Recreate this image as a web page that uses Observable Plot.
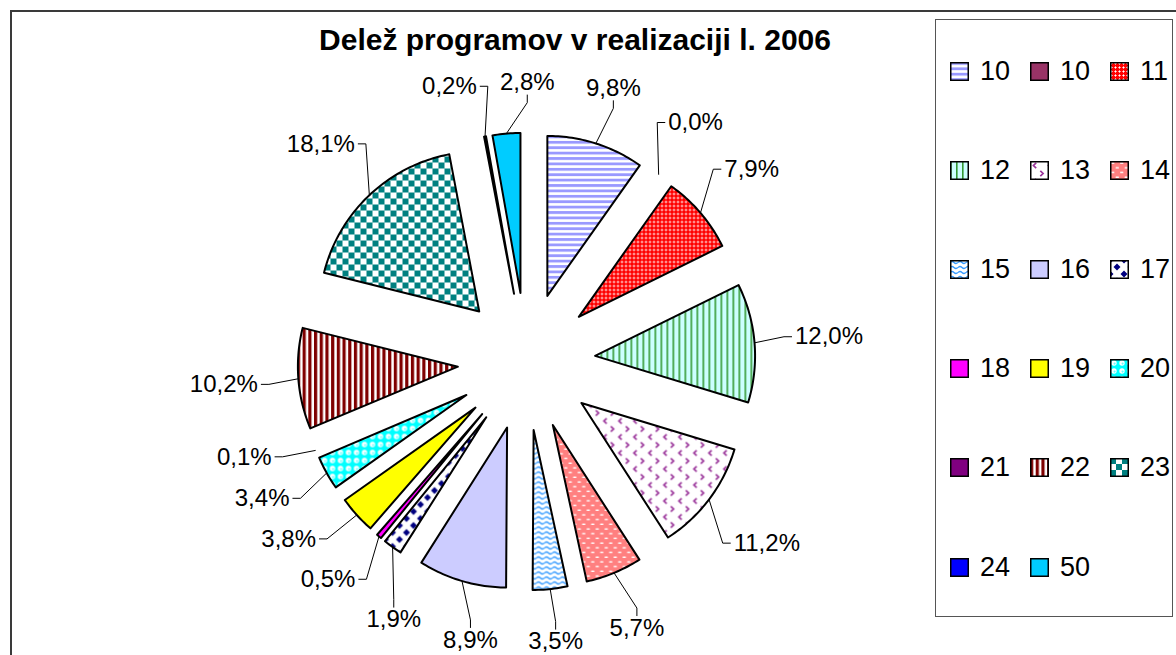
<!DOCTYPE html>
<html>
<head>
<meta charset="utf-8">
<script src="https://cdn.jsdelivr.net/npm/d3@7"></script>
<script src="https://cdn.jsdelivr.net/npm/@observablehq/plot@0.6"></script>
<style>
  body { margin: 0; background: #fff; font-family: "Liberation Sans", Arial, sans-serif; }
  #wrap { position: relative; width: 1176px; height: 655px; overflow: hidden; background: #fff; }
  #frame { position: absolute; left: 10px; top: 10px; right: -10px; bottom: -10px;
           border-left: 2px solid #3a3a3a; border-top: 2px solid #3a3a3a; }
  #chart { position: absolute; left: 0; top: 0; }
  #chart svg { display: block; }
  #title { position: absolute; left: 0; width: 1150px; top: 25px; text-align: center;
           font-weight: bold; font-size: 30px; line-height: 30px; color: #000; }
  #legend { position: absolute; left: 935px; top: 19px; width: 238px; height: 598px;
            border: 1.5px solid #555; box-sizing: border-box; background: #fff; }
  .item { position: absolute; display: flex; align-items: center; height: 19px; }
  .item span { margin-left: 11px; font-size: 27px; line-height: 19px; color: #000; }
</style>
</head>
<body>
<svg width="0" height="0" style="position:absolute">
  <defs>
    <pattern id="p10" patternUnits="userSpaceOnUse" width="6" height="5.4">
      <rect width="6" height="5.4" fill="#fff"/><rect y="0" width="6" height="2.8" fill="#9999ff"/>
    </pattern>
    <pattern id="p11" patternUnits="userSpaceOnUse" width="4" height="4">
      <rect width="4" height="4" fill="#ff0000"/>
      <rect x="1" y="0" width="1" height="3" fill="#ff9a9a"/>
      <rect x="0" y="1" width="3" height="1" fill="#ff9a9a"/>
      <rect x="1" y="1" width="1" height="1" fill="#fff"/>
    </pattern>
    <pattern id="p12" patternUnits="userSpaceOnUse" width="6" height="6">
      <rect width="6" height="6" fill="#ccffff"/><rect x="0" width="1.6" height="6" fill="#339933"/>
    </pattern>
    <pattern id="p13" patternUnits="userSpaceOnUse" width="15" height="16">
      <rect width="15" height="16" fill="#fff"/>
      <path d="M6.2 1.8 L3.4 4.5 L6.2 7.2" stroke="#993399" stroke-width="1.7" fill="none"/>
      <path d="M10.3 9.8 L13.1 12.5 L10.3 15.2" stroke="#993399" stroke-width="1.7" fill="none"/>
    </pattern>
    <pattern id="p14" patternUnits="userSpaceOnUse" width="9" height="9.4">
      <rect width="9" height="9.4" fill="#ff8080"/>
      <rect x="1" y="1.5" width="3.5" height="1.4" rx="0.7" fill="#fff"/>
      <rect x="5.5" y="6.2" width="3.5" height="1.4" rx="0.7" fill="#fff"/>
    </pattern>
    <pattern id="p15" patternUnits="userSpaceOnUse" width="8" height="5">
      <rect width="8" height="5" fill="#fff"/>
      <path d="M0 2.5 Q2 0.5 4 2.5 T8 2.5" stroke="#3399ff" stroke-width="1.2" fill="none"/>
    </pattern>
    <pattern id="p17" patternUnits="userSpaceOnUse" width="14" height="14">
      <rect width="14" height="14" fill="#fff"/>
      <path d="M7 3.5 L10.5 7 L7 10.5 L3.5 7Z" fill="#000080"/>
      <path d="M0 -3.5 L3.5 0 L0 3.5 L-3.5 0Z M14 -3.5 L17.5 0 L14 3.5 L10.5 0Z M0 10.5 L3.5 14 L0 17.5 L-3.5 14Z M14 10.5 L17.5 14 L14 17.5 L10.5 14Z" fill="#000080"/>
    </pattern>
    <pattern id="p20" patternUnits="userSpaceOnUse" width="8" height="8">
      <rect width="8" height="8" fill="#00ffff"/>
      <circle cx="4" cy="4" r="2.7" fill="#fff"/>
      <circle cx="4.6" cy="4.6" r="1.1" fill="#66ffff"/>
    </pattern>
    <pattern id="p22" patternUnits="userSpaceOnUse" width="5.7" height="6">
      <rect width="5.7" height="6" fill="#fff"/><rect width="3.2" height="6" fill="#800000"/>
    </pattern>
    <pattern id="p23" patternUnits="userSpaceOnUse" width="12" height="12">
      <rect width="12" height="12" fill="#fff"/>
      <rect width="6" height="6" fill="#008080"/><rect x="6" y="6" width="6" height="6" fill="#008080"/>
    </pattern>
  </defs>
</svg>

<div id="wrap">
  <div id="frame"></div>
  <div id="chart"></div>
  <div id="title"></div>
  <div id="legend"></div>
</div>

<script>
// ---- data ----
const title = "Delež programov v realizaciji l. 2006";
const categories = ["10", "10", "11", "12", "13", "14", "15", "16", "17", "18", "19", "20", "21", "22", "23", "24", "50"];
const shares = [9.8, 0.0, 7.9, 12.0, 11.2, 5.7, 3.5, 8.9, 1.9, 0.5, 3.8, 3.4, 0.1, 10.2, 18.1, 0.2, 2.8];

// ---- styles ----
const fills = ["url(#p10)", "#993366", "url(#p11)", "url(#p12)", "url(#p13)", "url(#p14)", "url(#p15)",
               "#ccccff", "url(#p17)", "#ff00ff", "#ffff00", "url(#p20)", "#800080", "url(#p22)",
               "url(#p23)", "#0000ff", "#00ccff"];

// ---- layout ----
const CX = 526, CY = 361, RPX = 160;   // pie centre and radius (px)
const EXPLODE = 0.43;                  // explosion as a fraction of the radius
const GAP = 40;                        // label distance beyond the slice arc (px)
const LABEL_FONT = 24;
const LABEL_H = 20;
const PAD_X = 22, PAD_Y = 20;          // spacing kept between neighbouring labels
const MIN_DRAWN = 0.15;                // slices that are too thin to show

document.getElementById("title").textContent = title;

const total = d3.sum(shares);
let acc = 0;
const slices = shares.map((v, i) => {
  const a0 = acc / total * 2 * Math.PI; acc += v;
  const a1 = acc / total * 2 * Math.PI;
  return {i, key: categories[i], value: v, a0, a1, mid: (a0 + a1) / 2, fill: fills[i]};
});

// wedge outlines (unit coordinates, y up)
const wedgePts = [];
slices.filter(s => s.value >= MIN_DRAWN).forEach(s => {
  const ex = EXPLODE * Math.sin(s.mid), ey = EXPLODE * Math.cos(s.mid);
  wedgePts.push({k: s.i, x: ex, y: ey, fill: s.fill});
  const n = Math.max(2, Math.ceil((s.a1 - s.a0) / (Math.PI / 180)));
  for (let j = 0; j <= n; j++) {
    const t = s.a0 + (s.a1 - s.a0) * j / n;
    wedgePts.push({k: s.i, x: ex + Math.sin(t), y: ey + Math.cos(t), fill: s.fill});
  }
});

// labels
const ctx = document.createElement("canvas").getContext("2d");
ctx.font = `${LABEL_FONT}px "Liberation Sans"`;
const labels = slices.map(s => {
  const text = s.value.toFixed(1).replace(".", ",") + "%";
  return {i: s.i, mid: s.mid, text, w: ctx.measureText(text).width, h: LABEL_H, phi: s.mid};
});
function place(l) {
  const sn = Math.sin(l.phi), cs = Math.cos(l.phi);
  const D = RPX * (1 + EXPLODE) + GAP + l.w / 2 * Math.abs(sn) + l.h / 2 * Math.abs(cs);
  l.cx = CX + D * sn; l.cy = CY - D * cs;
}
function overlap(a, b) {
  return Math.abs(a.cx - b.cx) < (a.w + b.w) / 2 + PAD_X && Math.abs(a.cy - b.cy) < (a.h + b.h) / 2 + PAD_Y;
}
const step = 0.2 * Math.PI / 180;
for (let it = 0; it < 3000; it++) {
  labels.forEach(place);
  let moved = false;
  for (let k = 0; k < labels.length; k++) {
    const a = labels[k], b = labels[(k + 1) % labels.length];
    if (overlap(a, b)) { a.phi -= step; b.phi += step; moved = true; place(a); place(b); }
  }
  if (!moved) break;
}
labels.forEach(place);

// leader lines
const leaderPts = [];
labels.forEach(l => {
  const R1 = RPX * (1 + EXPLODE);
  const ax = CX + R1 * Math.sin(l.mid), ay = CY - R1 * Math.cos(l.mid);
  const left = l.cx - l.w / 2 - 3, right = l.cx + l.w / 2 + 3;
  const top = l.cy - l.h / 2 - 2, bottom = l.cy + l.h / 2 + 2;
  let T, S;
  if (ax < left) { T = [left, l.cy]; S = [left - 8, l.cy]; }
  else if (ax > right) { T = [right, l.cy]; S = [right + 8, l.cy]; }
  else if (ay > bottom) { T = [l.cx, bottom]; S = [l.cx, bottom + 8]; }
  else { T = [l.cx, top]; S = [l.cx, top - 8]; }
  [[ax, ay], S, T].forEach(([px, py]) => leaderPts.push({k: l.i, x: (px - CX) / RPX, y: (CY - py) / RPX}));
});

const plot = Plot.plot({
  width: 1176, height: 655, margin: 0,
  x: {domain: [-1, 1], range: [CX - RPX, CX + RPX], axis: null},
  y: {domain: [-1, 1], range: [CY + RPX, CY - RPX], axis: null},
  color: {type: "identity"},
  style: {background: "transparent", overflow: "visible"},
  marks: [
    Plot.line(leaderPts, {x: "x", y: "y", z: "k", stroke: "black", strokeWidth: 1, strokeLinejoin: "miter", strokeLinecap: "butt"}),
    Plot.line(wedgePts, {x: "x", y: "y", z: "k", fill: "fill", stroke: "black", strokeWidth: 2, curve: "linear-closed"}),
    Plot.text(labels, {
      x: d => (d.cx - CX) / RPX, y: d => (CY - d.cy) / RPX, text: "text",
      fontSize: LABEL_FONT, fontFamily: '"Liberation Sans", Arial, sans-serif',
      textAnchor: "middle", lineAnchor: "middle", fill: "black"
    })
  ]
});
document.getElementById("chart").appendChild(plot);

// legend
const legend = document.getElementById("legend");
categories.forEach((c, i) => {
  const col = i % 3, row = Math.floor(i / 3);
  const div = document.createElement("div");
  div.className = "item";
  div.style.left = (949 - 935 + col * 80) + "px";
  div.style.top = (70 - 19 - 9.5 + row * 99.2) + "px";
  div.innerHTML = `<svg width="19" height="19"><rect x="0.75" y="0.75" width="17.5" height="17.5" fill="${fills[i]}" stroke="#000" stroke-width="1.5"/></svg><span>${c}</span>`;
  legend.appendChild(div);
});
</script>
</body>
</html>
